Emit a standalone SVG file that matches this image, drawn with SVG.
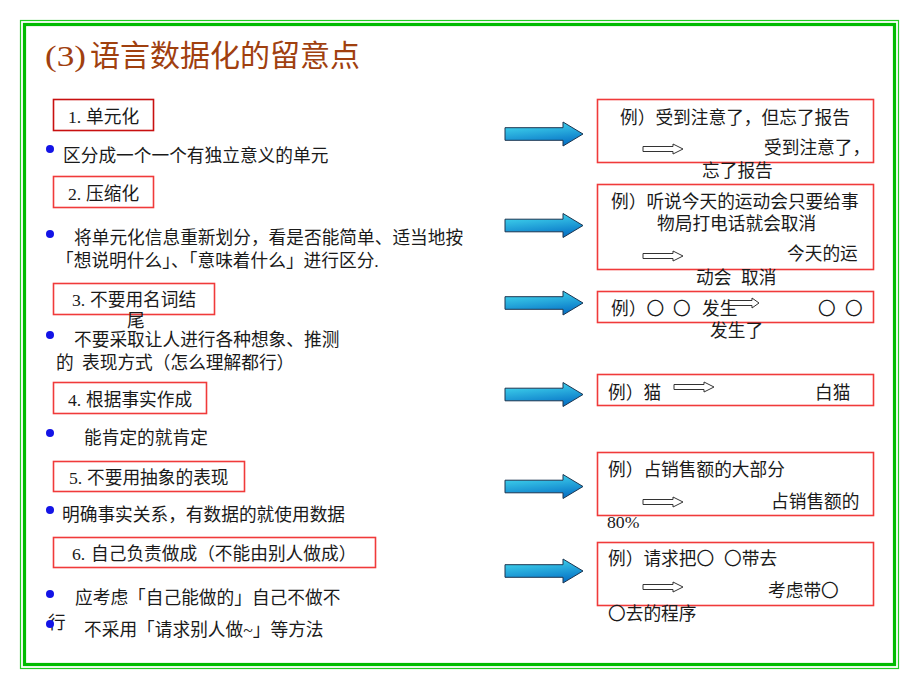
<svg xmlns="http://www.w3.org/2000/svg" width="920" height="690" viewBox="0 0 920 690">
<defs>
<style>
.t{font-family:"Liberation Serif","Noto Sans CJK SC",serif;font-size:17.7px;fill:#1a1a1a}
.title{font-family:"Liberation Serif","Noto Sans CJK SC",serif;font-size:30px;fill:#A0400F}
.box1{fill:#fff;stroke:#C81010;stroke-width:1.6}
.box{fill:#fff;stroke:#F03A3A;stroke-width:1.6}
.dot{fill:#1414E6}
.blue{fill:url(#bg);stroke:#1C3550;stroke-width:1}
.hollow{fill:#fff;stroke:#333;stroke-width:1}
</style>
<linearGradient id="bg" x1="0" y1="0" x2="0.3" y2="1">
<stop offset="0" stop-color="#48E2F2"/>
<stop offset="1" stop-color="#0A78C8"/>
</linearGradient>
<path id="ha" d="M0,-2.5 H30 V-5 L40,0 L30,5 V2.5 H0 Z"/>
<path id="ba" d="M0,-6.3 H58 V-12 L78,0 L58,12 V6.3 H0 Z"/>
</defs>
<rect width="920" height="690" fill="#fff"/>
<g id="frame">
<rect x="20.5" y="20.5" width="878" height="648" fill="none" stroke="#22CC22" stroke-width="1.2"/>
<rect x="24.5" y="24.5" width="870" height="640" fill="none" stroke="#00BB00" stroke-width="3.2"/>
</g>
<g id="title"><text class="title" x="45" y="66"><tspan textLength="41" lengthAdjust="spacingAndGlyphs">(3)</tspan><tspan x="90">语言数据化的留意点</tspan></text></g>

<g id="rule1">
<rect class="box1" x="53.5" y="99.5" width="100" height="31"/>
<text class="t" x="68" y="123">1.<tspan x="86">单元化</tspan></text>
<circle class="dot" cx="50" cy="149" r="4"/>
<text class="t" x="63" y="162">区分成一个一个有独立意义的单元</text>
</g>
<g id="rule2">
<rect class="box" x="53.5" y="176.5" width="100" height="31"/>
<text class="t" x="68" y="200">2.<tspan x="86">压缩化</tspan></text>
<circle class="dot" cx="50" cy="234" r="4"/>
<text class="t" x="74" y="244">将单元化信息重新划分，看是否能简单、适当地按</text>
<text class="t" x="56" y="267">「想说明什么」、「意味着什么」进行区分.</text>
</g>
<g id="rule3">
<rect class="box" x="53.5" y="283.5" width="161" height="31"/>
<text class="t" x="72" y="306">3.<tspan x="90">不要用名词结</tspan></text>
<text class="t" x="127" y="327">尾</text>
<circle class="dot" cx="50" cy="335" r="4"/>
<text class="t" x="74" y="346">不要采取让人进行各种想象、推测</text>
<text class="t" x="56" y="369">的<tspan x="82">表现方式（怎么理解都行）</tspan></text>
</g>
<g id="rule4">
<rect class="box" x="53.5" y="382.5" width="153" height="31"/>
<text class="t" x="68" y="406">4.<tspan x="86">根据事实作成</tspan></text>
<circle class="dot" cx="50" cy="433" r="4"/>
<text class="t" x="84" y="444">能肯定的就肯定</text>
</g>
<g id="rule5">
<rect class="box" x="53.5" y="461.5" width="191" height="30"/>
<text class="t" x="69" y="484">5.<tspan x="87">不要用抽象的表现</tspan></text>
<circle class="dot" cx="50" cy="510" r="4"/>
<text class="t" x="62" y="521">明确事实关系，有数据的就使用数据</text>
</g>
<g id="rule6">
<rect class="box" x="53.5" y="537.5" width="322" height="30"/>
<text class="t" x="72" y="560">6.<tspan x="91">自己负责做成（不能由别人做成）</tspan></text>
<circle class="dot" cx="50" cy="594" r="4"/>
<text class="t" x="75" y="604">应考虑「自己能做的」自己不做不</text>
<text class="t" x="48" y="629">行</text>
<circle class="dot" cx="50" cy="624" r="4"/>
<text class="t" x="84" y="636">不采用「请求别人做~」等方法</text>
</g>

<g id="connectors">
<use href="#ba" class="blue" x="505" y="134"/>
<use href="#ba" class="blue" x="505" y="225.5"/>
<use href="#ba" class="blue" x="505" y="303"/>
<use href="#ba" class="blue" x="505" y="394.5"/>
<use href="#ba" class="blue" x="505" y="486.5"/>
<use href="#ba" class="blue" x="505" y="571"/>
</g>

<g id="ex1">
<rect class="box" x="597.5" y="99.5" width="276" height="63"/>
<text class="t" x="620" y="124">例）受到注意了，但忘了报告</text>
<use href="#ha" class="hollow" x="643" y="149"/>
<text class="t" x="764" y="154">受到注意了，</text>
<text class="t" x="702" y="177">忘了报告</text>
</g>
<g id="ex2">
<rect class="box" x="597.5" y="184.5" width="276" height="85"/>
<text class="t" x="611" y="208">例）听说今天的运动会只要给事</text>
<text class="t" x="657" y="230">物局打电话就会取消</text>
<use href="#ha" class="hollow" x="643" y="256"/>
<text class="t" x="787" y="260">今天的运</text>
<text class="t" x="696" y="284">动会<tspan x="741">取消</tspan></text>
</g>
<g id="ex3">
<rect class="box" x="597.5" y="291.5" width="276" height="31"/>
<text class="t" x="611" y="315">例）〇<tspan x="673">〇</tspan><tspan x="702">发生</tspan></text>
<path class="hollow" d="M729,300.5 H752 V298 L759,303 L752,308 V305.5 H729 Z"/>
<text class="t" x="818" y="315">〇<tspan x="845">〇</tspan></text>
<text class="t" x="710" y="337">发生了</text>
</g>
<g id="ex4">
<rect class="box" x="597.5" y="374.5" width="276" height="31"/>
<text class="t" x="608" y="399">例）猫</text>
<use href="#ha" class="hollow" x="674" y="387"/>
<text class="t" x="815" y="399">白猫</text>
</g>
<g id="ex5">
<rect class="box" x="597.5" y="452.5" width="276" height="63"/>
<text class="t" x="608" y="476">例）占销售额的大部分</text>
<use href="#ha" class="hollow" x="643" y="502"/>
<text class="t" x="771" y="508">占销售额的</text>
<text class="t" x="607" y="528">80%</text>
</g>
<g id="ex6">
<rect class="box" x="597.5" y="542.5" width="276" height="63"/>
<text class="t" x="608" y="565">例）请求把〇<tspan x="724">〇带去</tspan></text>
<use href="#ha" class="hollow" x="643" y="587"/>
<text class="t" x="768" y="597">考虑带〇</text>
<text class="t" x="608" y="620">〇去的程序</text>
</g>
</svg>
